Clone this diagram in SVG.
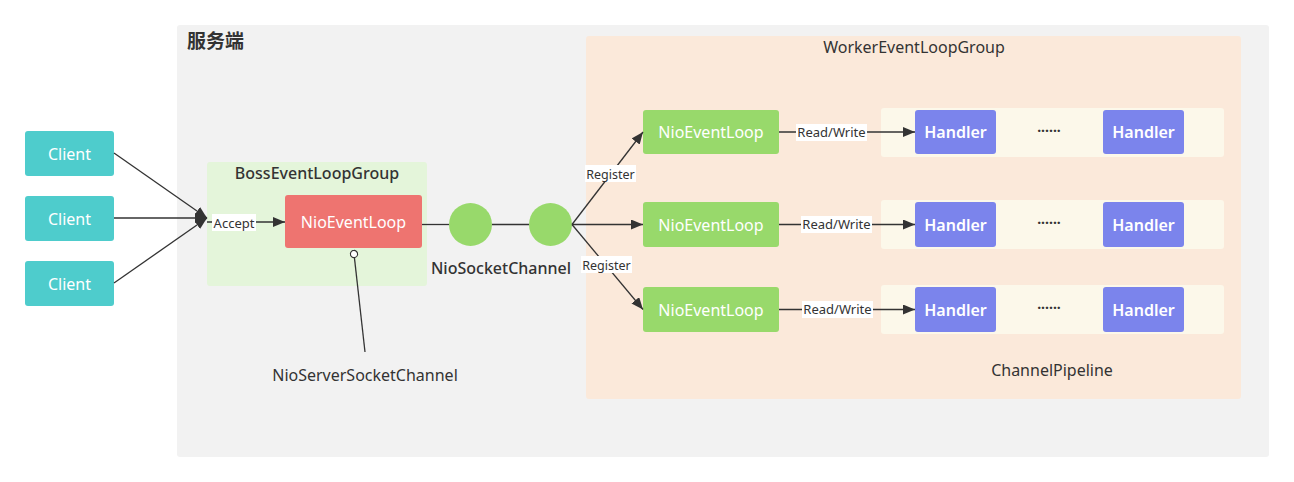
<svg xmlns="http://www.w3.org/2000/svg" width="1294" height="482" viewBox="0 0 1294 482">
<defs>
<marker id="arr" viewBox="0 0 12 10" refX="12" refY="5" markerWidth="12" markerHeight="10" markerUnits="userSpaceOnUse" orient="auto">
<path d="M0,0 L12,5 L0,10 Z" fill="#333"/>
</marker>
<marker id="dot" viewBox="0 0 10 10" refX="5" refY="5" markerWidth="9" markerHeight="9" markerUnits="userSpaceOnUse" orient="auto">
<circle cx="5" cy="5" r="4" fill="#fff" stroke="#333" stroke-width="1.3"/>
</marker>
<style>
text{font-family:"Noto Sans","Liberation Sans","Noto Sans CJK SC",sans-serif;}
.node text{fill:#fff;font-size:16px;text-anchor:middle;dominant-baseline:central;}
.client rect{fill:#4ecccc;}
.boss rect{fill:#ee7470;}
.worker rect{fill:#98d96b;}
.handler rect{fill:#7b84ec;}
.handler text{font-weight:600;}
.grp{font-size:16px;fill:#333;text-anchor:middle;}
.lbl{font-size:13px;fill:#333;text-anchor:middle;dominant-baseline:central;}
.edge{stroke:#333;stroke-width:1.3;fill:none;}
.lblbg{fill:#fff;}
.dots{font-size:14px;fill:#333;text-anchor:middle;font-weight:bold;}
</style>
</defs>
<rect width="1294" height="482" fill="#fff"/>

<g id="server">
<rect x="177" y="25" width="1092" height="432" rx="3" fill="#f2f2f2"/>
<text x="187" y="48" style="font-size:19px;font-weight:bold;fill:#333;font-family:'Noto Sans CJK SC','Noto Sans',sans-serif;">服务端</text>
</g>

<g id="worker-group">
<rect x="586" y="36" width="655" height="363" rx="3" fill="#fbe9da"/>
<text class="grp" x="914" y="52.5">WorkerEventLoopGroup</text>
</g>

<g id="boss-group">
<rect x="207" y="162" width="220" height="124" rx="3" fill="#e4f5da"/>
<text class="grp" x="317" y="178.5" style="font-weight:500">BossEventLoopGroup</text>
</g>

<g id="pipelines">
<rect x="881" y="108" width="343" height="49" rx="3" fill="#fcf8ea"/>
<rect x="881" y="200" width="343" height="49" rx="3" fill="#fcf8ea"/>
<rect x="881" y="285" width="343" height="49" rx="3" fill="#fcf8ea"/>
<text class="grp" x="1052" y="376">ChannelPipeline</text>
</g>

<g id="client1" class="node client"><rect x="25" y="131" width="89" height="45" rx="3"/><text x="69.5" y="153.5">Client</text></g>
<g id="client2" class="node client"><rect x="25" y="196" width="89" height="45" rx="3"/><text x="69.5" y="218.5">Client</text></g>
<g id="client3" class="node client"><rect x="25" y="261" width="89" height="45" rx="3"/><text x="69.5" y="283.5">Client</text></g>

<g id="boss-loop" class="node boss"><rect x="285" y="195" width="137" height="53" rx="3"/><text x="353.5" y="221.5">NioEventLoop</text></g>

<g id="channel1"><circle cx="470.5" cy="224.5" r="21.5" fill="#98d96b"/></g>
<g id="channel2"><circle cx="550.5" cy="224.5" r="21.5" fill="#98d96b"/>
<text x="501" y="274" style="font-size:16px;fill:#333;text-anchor:middle;font-weight:500">NioSocketChannel</text></g>

<g id="server-channel-label"><text x="365" y="381" style="font-size:16px;fill:#333;text-anchor:middle">NioServerSocketChannel</text></g>

<g id="worker-loop1" class="node worker"><rect x="643" y="110" width="136" height="44" rx="3"/><text x="711" y="132">NioEventLoop</text></g>
<g id="worker-loop2" class="node worker"><rect x="643" y="202" width="136" height="45" rx="3"/><text x="711" y="224.5">NioEventLoop</text></g>
<g id="worker-loop3" class="node worker"><rect x="643" y="287" width="136" height="45" rx="3"/><text x="711" y="309.5">NioEventLoop</text></g>

<g id="handler1a" class="node handler"><rect x="915" y="110" width="81" height="44" rx="3"/><text x="955.5" y="132">Handler</text></g>
<g id="handler1b" class="node handler"><rect x="1103" y="110" width="81" height="44" rx="3"/><text x="1143.5" y="132">Handler</text></g>
<g id="handler2a" class="node handler"><rect x="915" y="202" width="81" height="45" rx="3"/><text x="955.5" y="224.5">Handler</text></g>
<g id="handler2b" class="node handler"><rect x="1103" y="202" width="81" height="45" rx="3"/><text x="1143.5" y="224.5">Handler</text></g>
<g id="handler3a" class="node handler"><rect x="915" y="287" width="81" height="45" rx="3"/><text x="955.5" y="309.5">Handler</text></g>
<g id="handler3b" class="node handler"><rect x="1103" y="287" width="81" height="45" rx="3"/><text x="1143.5" y="309.5">Handler</text></g>

<g id="ellipses">
<text class="dots" x="1049" y="136">······</text>
<text class="dots" x="1049" y="228">······</text>
<text class="dots" x="1049" y="313">······</text>
</g>

<g id="connectors">
<line class="edge" x1="114" y1="153" x2="207" y2="218" marker-end="url(#arr)"/>
<line class="edge" x1="114" y1="218" x2="207" y2="218" marker-end="url(#arr)"/>
<line class="edge" x1="114" y1="283" x2="207" y2="218" marker-end="url(#arr)"/>
<line class="edge" x1="207" y1="222" x2="285" y2="222" marker-end="url(#arr)"/>
<rect class="lblbg" x="212" y="214" width="44" height="17"/>
<text class="lbl" x="234" y="222.5">Accept</text>

<line class="edge" x1="354" y1="254" x2="365" y2="352" marker-start="url(#dot)"/>

<line class="edge" x1="422" y1="224.5" x2="449" y2="224.5"/>
<line class="edge" x1="492" y1="224.5" x2="529" y2="224.5"/>

<line class="edge" x1="572" y1="224.5" x2="643" y2="132" marker-end="url(#arr)"/>
<line class="edge" x1="572" y1="224.5" x2="643" y2="224.5" marker-end="url(#arr)"/>
<line class="edge" x1="572" y1="224.5" x2="643" y2="309.5" marker-end="url(#arr)"/>
<rect class="lblbg" x="585" y="165" width="51" height="17"/>
<text class="lbl" x="610.5" y="174" style="font-size:12.5px">Register</text>
<rect class="lblbg" x="581" y="256" width="51" height="17"/>
<text class="lbl" x="606.5" y="265" style="font-size:12.5px">Register</text>

<line class="edge" x1="779" y1="132" x2="915" y2="132" marker-end="url(#arr)"/>
<line class="edge" x1="779" y1="224.5" x2="915" y2="224.5" marker-end="url(#arr)"/>
<line class="edge" x1="779" y1="309.5" x2="915" y2="309.5" marker-end="url(#arr)"/>
<rect class="lblbg" x="796" y="124" width="71" height="17"/>
<text class="lbl" x="831.5" y="132">Read/Write</text>
<rect class="lblbg" x="801" y="216" width="71" height="17"/>
<text class="lbl" x="836.5" y="224">Read/Write</text>
<rect class="lblbg" x="802" y="301" width="71" height="17"/>
<text class="lbl" x="837.5" y="309">Read/Write</text>
</g>
</svg>
